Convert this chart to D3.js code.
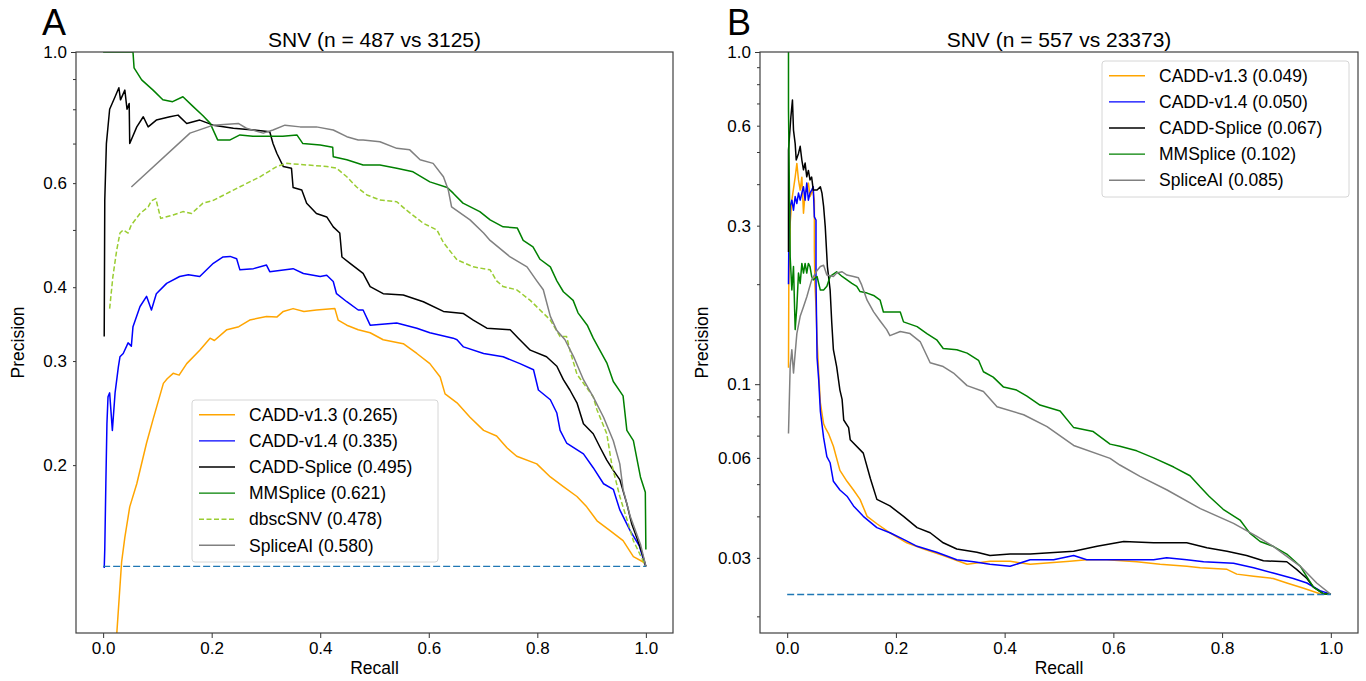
<!DOCTYPE html>
<html>
<head>
<meta charset="utf-8">
<script src="https://cdn.jsdelivr.net/npm/d3@7"></script>
<style>
body { margin: 0; background: #fff; }
svg { font-family: "Liberation Sans", Arial, sans-serif; }
</style>
</head>
<body>
<svg id="chart" width="1366" height="681"></svg>
<script>
// ---- data: [recall, precision] ----
var seriesNames = ["CADD-v1.3", "CADD-v1.4", "CADD-Splice", "MMSplice", "dbscSNV", "SpliceAI"];
var aucA = ["0.265", "0.335", "0.495", "0.621", "0.478", "0.580"];
var aucB = ["0.049", "0.050", "0.067", "0.102", "0.085"];
var countsA = [487, 3125];
var countsB = [557, 23373];

var xTicks = [0, 0.2, 0.4, 0.6, 0.8, 1.0];
var yMinorA = [0.2, 0.3, 0.4, 0.5, 0.6, 0.7, 0.8, 0.9];
var yMajorA = [1.0];
var yLabelsA = [0.2, 0.3, 0.4, 0.6, 1.0];
var yMinorB = [0.02, 0.03, 0.04, 0.05, 0.06, 0.07, 0.08, 0.09, 0.2, 0.3, 0.4, 0.5, 0.6, 0.7, 0.8, 0.9];
var yMajorB = [0.1, 1.0];
var yLabelsB = [0.03, 0.06, 0.1, 0.3, 0.6, 1.0];

var A_cadd13 = [[0.023,0.097],[0.034,0.137],[0.040,0.151],[0.049,0.170],[0.062,0.186],[0.080,0.218],[0.092,0.239],[0.111,0.275],[0.118,0.280],[0.129,0.286],[0.140,0.284],[0.154,0.297],[0.178,0.313],[0.197,0.328],[0.205,0.325],[0.228,0.339],[0.250,0.343],[0.270,0.352],[0.301,0.357],[0.320,0.356],[0.332,0.364],[0.350,0.368],[0.370,0.364],[0.393,0.366],[0.427,0.368],[0.433,0.352],[0.449,0.345],[0.470,0.339],[0.492,0.335],[0.516,0.326],[0.553,0.321],[0.578,0.309],[0.602,0.297],[0.621,0.282],[0.630,0.264],[0.652,0.255],[0.676,0.241],[0.701,0.229],[0.725,0.224],[0.744,0.214],[0.762,0.207],[0.799,0.201],[0.824,0.191],[0.848,0.184],[0.873,0.177],[0.891,0.170],[0.910,0.161],[0.934,0.155],[0.958,0.149],[0.977,0.140],[0.996,0.137],[1.0,0.1348]];
var A_cadd14 = [[0.002,0.134],[0.003,0.144],[0.005,0.186],[0.007,0.235],[0.009,0.261],[0.012,0.265],[0.017,0.229],[0.022,0.265],[0.028,0.293],[0.031,0.305],[0.037,0.309],[0.046,0.322],[0.052,0.318],[0.055,0.343],[0.068,0.371],[0.080,0.386],[0.089,0.366],[0.098,0.390],[0.117,0.406],[0.141,0.417],[0.157,0.420],[0.178,0.417],[0.203,0.439],[0.221,0.450],[0.234,0.451],[0.246,0.447],[0.252,0.428],[0.277,0.430],[0.301,0.436],[0.307,0.425],[0.350,0.430],[0.369,0.422],[0.400,0.417],[0.412,0.419],[0.424,0.409],[0.430,0.390],[0.449,0.378],[0.470,0.366],[0.479,0.366],[0.492,0.345],[0.541,0.348],[0.578,0.341],[0.602,0.335],[0.645,0.328],[0.652,0.326],[0.664,0.317],[0.701,0.309],[0.737,0.305],[0.768,0.297],[0.793,0.290],[0.802,0.268],[0.824,0.258],[0.836,0.245],[0.842,0.229],[0.854,0.218],[0.885,0.209],[0.903,0.198],[0.922,0.186],[0.940,0.182],[0.952,0.168],[0.971,0.155],[0.988,0.146],[0.996,0.138],[1.0,0.1348]];
var A_caddSplice = [[0.002,0.330],[0.003,0.56],[0.006,0.70],[0.012,0.80],[0.022,0.84],[0.029,0.87],[0.032,0.83],[0.040,0.862],[0.044,0.80],[0.048,0.818],[0.049,0.70],[0.062,0.747],[0.074,0.777],[0.083,0.747],[0.098,0.767],[0.123,0.777],[0.138,0.782],[0.154,0.757],[0.178,0.767],[0.203,0.752],[0.240,0.743],[0.277,0.738],[0.307,0.733],[0.313,0.70],[0.320,0.674],[0.332,0.64],[0.347,0.636],[0.350,0.59],[0.366,0.584],[0.375,0.555],[0.393,0.533],[0.412,0.526],[0.424,0.506],[0.436,0.494],[0.440,0.45],[0.455,0.439],[0.479,0.422],[0.492,0.401],[0.516,0.39],[0.553,0.388],[0.590,0.378],[0.627,0.364],[0.664,0.361],[0.682,0.352],[0.707,0.341],[0.750,0.339],[0.765,0.328],[0.787,0.313],[0.817,0.305],[0.836,0.294],[0.848,0.279],[0.860,0.268],[0.873,0.255],[0.885,0.235],[0.903,0.226],[0.916,0.214],[0.928,0.204],[0.940,0.196],[0.952,0.189],[0.965,0.172],[0.974,0.159],[0.983,0.151],[0.993,0.142],[1.0,0.1348]];
var A_mmsplice = [[0.0,1.0],[0.055,1.0],[0.057,0.94],[0.071,0.897],[0.092,0.862],[0.110,0.83],[0.128,0.824],[0.147,0.84],[0.165,0.81],[0.184,0.78],[0.197,0.758],[0.211,0.71],[0.234,0.71],[0.252,0.724],[0.276,0.72],[0.302,0.72],[0.331,0.72],[0.357,0.724],[0.368,0.70],[0.400,0.696],[0.423,0.69],[0.424,0.665],[0.449,0.657],[0.479,0.644],[0.510,0.644],[0.541,0.636],[0.571,0.627],[0.602,0.603],[0.634,0.59],[0.645,0.577],[0.663,0.555],[0.694,0.537],[0.713,0.52],[0.737,0.506],[0.763,0.504],[0.774,0.48],[0.792,0.468],[0.805,0.446],[0.824,0.433],[0.836,0.41],[0.848,0.393],[0.866,0.38],[0.875,0.362],[0.892,0.345],[0.903,0.328],[0.928,0.298],[0.940,0.277],[0.958,0.262],[0.965,0.229],[0.977,0.22],[0.990,0.191],[0.999,0.18],[1.0,0.144]];
var A_dbscsnv = [[0.012,0.368],[0.018,0.417],[0.025,0.462],[0.031,0.494],[0.037,0.50],[0.046,0.494],[0.052,0.51],[0.068,0.533],[0.083,0.547],[0.089,0.56],[0.097,0.565],[0.106,0.523],[0.129,0.53],[0.147,0.537],[0.163,0.533],[0.184,0.555],[0.203,0.561],[0.240,0.584],[0.289,0.615],[0.320,0.64],[0.338,0.648],[0.375,0.644],[0.412,0.64],[0.430,0.636],[0.449,0.615],[0.467,0.591],[0.486,0.573],[0.510,0.562],[0.541,0.558],[0.559,0.54],[0.590,0.513],[0.615,0.50],[0.627,0.476],[0.652,0.445],[0.682,0.433],[0.713,0.428],[0.725,0.41],[0.737,0.401],[0.762,0.396],[0.787,0.38],[0.805,0.366],[0.824,0.352],[0.842,0.33],[0.854,0.33],[0.860,0.313],[0.873,0.285],[0.903,0.261],[0.910,0.248],[0.928,0.226],[0.937,0.201],[0.952,0.177],[0.965,0.162],[0.977,0.149],[0.996,0.137],[1.0,0.1348]];
var A_spliceai = [[0.052,0.591],[0.160,0.729],[0.203,0.752],[0.249,0.757],[0.264,0.743],[0.295,0.729],[0.313,0.738],[0.335,0.752],[0.363,0.747],[0.393,0.747],[0.424,0.738],[0.449,0.719],[0.470,0.71],[0.479,0.71],[0.510,0.705],[0.541,0.687],[0.565,0.683],[0.584,0.657],[0.608,0.648],[0.627,0.615],[0.636,0.584],[0.642,0.547],[0.676,0.52],[0.701,0.494],[0.713,0.48],[0.750,0.45],[0.781,0.433],[0.799,0.41],[0.811,0.396],[0.824,0.357],[0.836,0.338],[0.851,0.326],[0.867,0.305],[0.885,0.279],[0.903,0.261],[0.922,0.241],[0.940,0.22],[0.952,0.201],[0.958,0.182],[0.971,0.164],[0.990,0.147],[1.0,0.1348]];

var B_cadd13 = [[0.0024,0.112],[0.003,0.2],[0.0055,0.305],[0.0086,0.358],[0.0147,0.42],[0.0178,0.462],[0.0208,0.412],[0.0239,0.384],[0.027,0.42],[0.030,0.327],[0.033,0.376],[0.039,0.403],[0.042,0.367],[0.047,0.384],[0.050,0.358],[0.050,0.254],[0.051,0.2],[0.053,0.171],[0.055,0.136],[0.058,0.108],[0.061,0.088],[0.067,0.076],[0.070,0.074],[0.076,0.071],[0.079,0.069],[0.085,0.065],[0.097,0.055],[0.110,0.051],[0.122,0.048],[0.134,0.045],[0.147,0.040],[0.165,0.038],[0.189,0.0357],[0.220,0.0333],[0.251,0.0319],[0.287,0.0305],[0.331,0.0287],[0.373,0.0293],[0.410,0.0293],[0.447,0.0287],[0.520,0.0293],[0.551,0.0296],[0.588,0.0296],[0.643,0.0292],[0.686,0.0287],[0.735,0.0283],[0.760,0.028],[0.809,0.0277],[0.827,0.0268],[0.858,0.0264],[0.894,0.026],[0.919,0.0252],[0.950,0.0243],[0.980,0.0234],[1.0,0.0233]];
var B_cadd14 = [[0.0024,0.2],[0.003,0.27],[0.0055,0.343],[0.0086,0.358],[0.0116,0.334],[0.0147,0.367],[0.0178,0.35],[0.0208,0.376],[0.0239,0.358],[0.027,0.376],[0.030,0.393],[0.033,0.358],[0.036,0.403],[0.039,0.358],[0.042,0.376],[0.045,0.384],[0.048,0.393],[0.050,0.319],[0.053,0.312],[0.053,0.206],[0.055,0.12],[0.058,0.103],[0.061,0.083],[0.067,0.069],[0.073,0.0605],[0.079,0.058],[0.085,0.051],[0.097,0.048],[0.110,0.046],[0.122,0.043],[0.140,0.040],[0.165,0.037],[0.189,0.0357],[0.214,0.0341],[0.239,0.0325],[0.275,0.0312],[0.312,0.0296],[0.343,0.0292],[0.373,0.0287],[0.410,0.0283],[0.447,0.0296],[0.490,0.0296],[0.527,0.0305],[0.551,0.0296],[0.612,0.0296],[0.674,0.0296],[0.698,0.030],[0.735,0.0296],[0.766,0.0292],[0.821,0.0289],[0.858,0.028],[0.894,0.027],[0.931,0.026],[0.956,0.0252],[0.980,0.0239],[1.0,0.0233]];
var B_caddSplice = [[0.0024,0.25],[0.0024,0.507],[0.0068,0.638],[0.0097,0.717],[0.0116,0.582],[0.0147,0.53],[0.0166,0.473],[0.0208,0.495],[0.0239,0.52],[0.027,0.473],[0.030,0.442],[0.033,0.463],[0.036,0.421],[0.039,0.44],[0.042,0.412],[0.045,0.42],[0.048,0.384],[0.055,0.384],[0.061,0.393],[0.064,0.376],[0.067,0.343],[0.070,0.298],[0.074,0.226],[0.079,0.192],[0.082,0.153],[0.085,0.127],[0.091,0.113],[0.097,0.096],[0.101,0.09],[0.104,0.078],[0.113,0.074],[0.116,0.068],[0.140,0.062],[0.153,0.052],[0.165,0.045],[0.189,0.043],[0.214,0.040],[0.239,0.037],[0.263,0.0357],[0.287,0.0333],[0.312,0.0319],[0.349,0.0312],[0.373,0.0305],[0.410,0.0308],[0.447,0.0308],[0.527,0.0314],[0.570,0.0325],[0.619,0.0336],[0.674,0.0333],[0.735,0.0333],[0.772,0.0322],[0.809,0.0314],[0.845,0.0305],[0.876,0.0294],[0.919,0.0292],[0.937,0.0277],[0.956,0.026],[0.968,0.0245],[0.986,0.0234],[1.0,0.0233]];
var B_mmsplice = [[0.0024,1.0],[0.0024,0.67],[0.0055,0.242],[0.0086,0.192],[0.0116,0.226],[0.0147,0.146],[0.0178,0.171],[0.0208,0.216],[0.0239,0.201],[0.027,0.231],[0.030,0.216],[0.033,0.231],[0.036,0.216],[0.039,0.231],[0.042,0.226],[0.045,0.211],[0.048,0.206],[0.055,0.211],[0.058,0.201],[0.061,0.192],[0.067,0.192],[0.073,0.197],[0.079,0.211],[0.091,0.218],[0.101,0.211],[0.110,0.206],[0.119,0.201],[0.128,0.197],[0.134,0.19],[0.147,0.188],[0.159,0.185],[0.171,0.179],[0.177,0.165],[0.208,0.165],[0.214,0.154],[0.239,0.149],[0.257,0.142],[0.275,0.136],[0.287,0.128],[0.312,0.127],[0.331,0.124],[0.352,0.118],[0.361,0.109],[0.379,0.105],[0.398,0.098],[0.422,0.096],[0.441,0.092],[0.465,0.0865],[0.502,0.083],[0.527,0.074],[0.563,0.072],[0.594,0.066],[0.612,0.065],[0.643,0.063],[0.674,0.06],[0.711,0.0563],[0.741,0.053],[0.760,0.049],[0.776,0.046],[0.802,0.042],[0.833,0.039],[0.851,0.0356],[0.870,0.0336],[0.894,0.0325],[0.919,0.0308],[0.944,0.0283],[0.956,0.0263],[0.968,0.0245],[0.986,0.0234],[1.0,0.0233]];
var B_spliceai = [[0.0024,0.071],[0.0055,0.113],[0.0086,0.127],[0.0116,0.108],[0.0147,0.124],[0.0178,0.142],[0.0239,0.16],[0.030,0.171],[0.036,0.183],[0.045,0.206],[0.055,0.22],[0.061,0.226],[0.067,0.228],[0.073,0.213],[0.085,0.211],[0.091,0.216],[0.101,0.218],[0.110,0.213],[0.122,0.211],[0.131,0.209],[0.137,0.199],[0.147,0.179],[0.159,0.165],[0.171,0.155],[0.183,0.146],[0.189,0.14],[0.208,0.144],[0.226,0.142],[0.245,0.134],[0.263,0.116],[0.287,0.113],[0.306,0.108],[0.331,0.099],[0.361,0.095],[0.386,0.0855],[0.435,0.0809],[0.478,0.0745],[0.527,0.0654],[0.594,0.0598],[0.612,0.0571],[0.649,0.0528],[0.698,0.0481],[0.760,0.0422],[0.821,0.0381],[0.864,0.0348],[0.894,0.0325],[0.944,0.0283],[0.974,0.0252],[1.0,0.0233]];

// ---- styles ----
var lineStyle = {
    "CADD-v1.3": { color: "#ffa500", dash: null },
    "CADD-v1.4": { color: "#0000ff", dash: null },
    "CADD-Splice": { color: "#000000", dash: null },
    "MMSplice": { color: "#008000", dash: null },
    "dbscSNV": { color: "#9acd32", dash: "5,2.5" },
    "SpliceAI": { color: "#808080", dash: null }
};

var svg = d3.select("#chart");

drawPanel({
    letter: "A", letterX: 42,
    left: 76, top: 52, width: 597, height: 581, ymin: 0.104,
    counts: countsA,
    curves: [A_cadd13, A_cadd14, A_caddSplice, A_mmsplice, A_dbscsnv, A_spliceai],
    names: seriesNames, auc: aucA,
    yMinor: yMinorA, yMajor: yMajorA, yLabels: yLabelsA,
    legend: { x: 192, y: 400, w: 246, h: 162 }
});

drawPanel({
    letter: "B", letterX: 727,
    left: 760, top: 52, width: 598, height: 581, ymin: 0.01782,
    counts: countsB,
    curves: [B_cadd13, B_cadd14, B_caddSplice, B_mmsplice, B_spliceai],
    names: seriesNames.filter(function (n) { return n !== "dbscSNV"; }), auc: aucB,
    yMinor: yMinorB, yMajor: yMajorB, yLabels: yLabelsB,
    legend: { x: 1102, y: 61, w: 247, h: 136 }
});

function drawPanel(cfg) {
    var g = svg.append("g").attr("transform", "translate(" + cfg.left + "," + cfg.top + ")");

    var x = d3.scaleLinear().domain([-0.05, 1.05]).range([0, cfg.width]);
    var y = d3.scaleLog().domain([cfg.ymin, 1.0]).range([cfg.height, 0]);

    var clipId = "clip" + cfg.letter;
    g.append("clipPath").attr("id", clipId)
        .append("rect").attr("width", cfg.width).attr("height", cfg.height);

    var line = d3.line()
        .x(function (d) { return x(d[0]); })
        .y(function (d) { return y(d[1]); });

    var plot = g.append("g").attr("clip-path", "url(#" + clipId + ")");

    cfg.curves.forEach(function (pts, i) {
        var st = lineStyle[cfg.names[i]];
        plot.append("path")
            .datum(pts)
            .attr("d", line)
            .attr("fill", "none")
            .attr("stroke", st.color)
            .attr("stroke-width", 1.5)
            .attr("stroke-linejoin", "round")
            .attr("stroke-dasharray", st.dash);
    });

    // no-skill baseline
    var base = cfg.counts[0] / (cfg.counts[0] + cfg.counts[1]);
    plot.append("path")
        .datum([[0, base], [1, base]])
        .attr("d", line)
        .attr("fill", "none")
        .attr("stroke", "#1f77b4")
        .attr("stroke-width", 1.4)
        .attr("stroke-dasharray", "7,3");

    // axes
    var xAxis = g.append("g").attr("transform", "translate(0," + cfg.height + ")")
        .call(d3.axisBottom(x).tickValues(xTicks).tickSize(5).tickPadding(4).tickFormat(d3.format(".1f")));
    var yMinorAxis = g.append("g").call(d3.axisLeft(y).tickValues(cfg.yMinor).tickSize(3).tickFormat(""));
    var yMajorAxis = g.append("g").call(d3.axisLeft(y).tickValues(cfg.yMajor).tickSize(5).tickFormat(""));
    var yLabelAxis = g.append("g").call(d3.axisLeft(y).tickValues(cfg.yLabels).tickSize(0).tickPadding(9)
        .tickFormat(function (d) { return d === 1 ? "1.0" : String(d); }));

    [xAxis, yMinorAxis, yMajorAxis, yLabelAxis].forEach(function (a) {
        a.select(".domain").remove();
        a.attr("font-family", null).attr("font-size", null);
        a.selectAll("line").attr("stroke", "#333").attr("stroke-width", 1);
        a.selectAll("text").attr("fill", "#000").style("font-size", "17px");
    });

    // frame
    g.append("rect")
        .attr("width", cfg.width).attr("height", cfg.height)
        .attr("fill", "none").attr("stroke", "#404040").attr("stroke-width", 1.2);

    // titles and labels
    g.append("text")
        .attr("x", cfg.width / 2).attr("y", -5)
        .attr("text-anchor", "middle").style("font-size", "21px")
        .text("SNV (n = " + cfg.counts[0] + " vs " + cfg.counts[1] + ")");

    svg.append("text")
        .attr("x", cfg.letterX).attr("y", 35)
        .style("font-size", "36px")
        .text(cfg.letter);

    g.append("text")
        .attr("x", cfg.width / 2).attr("y", cfg.height + 41)
        .attr("text-anchor", "middle").style("font-size", "17.5px")
        .text("Recall");

    g.append("text")
        .attr("transform", "translate(-52," + (cfg.height / 2) + ") rotate(-90)")
        .attr("text-anchor", "middle").style("font-size", "17.5px")
        .text("Precision");

    // legend
    var lg = svg.append("g").attr("transform", "translate(" + cfg.legend.x + "," + cfg.legend.y + ")");
    lg.append("rect")
        .attr("width", cfg.legend.w).attr("height", cfg.legend.h)
        .attr("rx", 3)
        .attr("fill", "#fff").attr("fill-opacity", 0.8)
        .attr("stroke", "#d6d6d6").attr("stroke-width", 1);

    var rows = lg.selectAll(".row")
        .data(cfg.names)
        .enter()
        .append("g")
        .attr("class", "row")
        .attr("transform", function (d, i) { return "translate(0," + (14.8 + i * 26.1) + ")"; });

    rows.append("line")
        .attr("x1", 7).attr("x2", 43)
        .attr("stroke", function (d) { return lineStyle[d].color; })
        .attr("stroke-width", 1.4)
        .attr("stroke-dasharray", function (d) { return lineStyle[d].dash; });

    rows.append("text")
        .attr("x", 57).attr("y", 6.2)
        .style("font-size", "17.5px")
        .text(function (d, i) { return d + " (" + cfg.auc[i] + ")"; });
}
</script>
</body>
</html>
